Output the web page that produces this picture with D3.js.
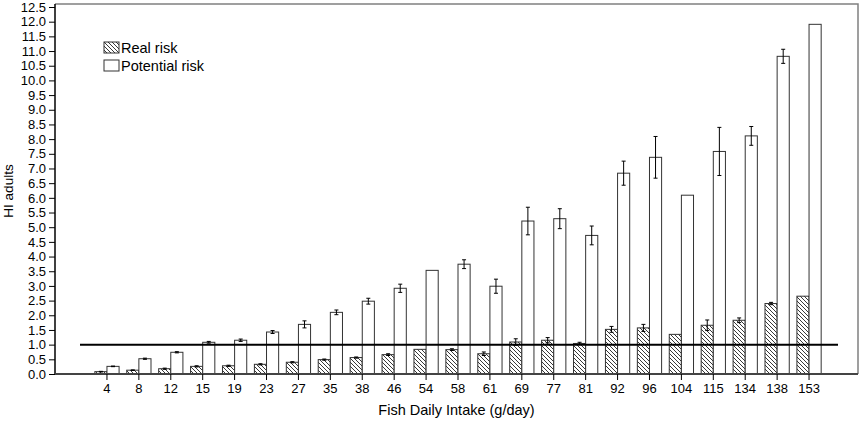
<!DOCTYPE html>
<html>
<head>
<meta charset="utf-8">
<script src="https://cdn.jsdelivr.net/npm/d3@7"></script>
<style>
  body { margin: 0; background: #fff; }
  text { font-family: "Liberation Sans", Arial, sans-serif; fill: #000; }
</style>
</head>
<body>
<div id="chart"></div>
<script>
// values
var intake = ["4", "8", "12", "15", "19", "23", "27", "35", "38", "46", "54", "58",
  "61", "69", "77", "81", "92", "96", "104", "115", "134", "138", "153"];
var realRisk = [0.08, 0.13, 0.18, 0.26, 0.28, 0.33, 0.40, 0.49, 0.56, 0.66, 0.84, 0.83,
  0.69, 1.09, 1.15, 1.04, 1.52, 1.57, 1.35, 1.66, 1.83, 2.40, 2.65];
var realErr = [0.01, 0.01, 0.02, 0.02, 0.02, 0.02, 0.02, 0.02, 0.02, 0.03, 0, 0.03,
  0.06, 0.11, 0.09, 0.04, 0.10, 0.12, 0, 0.18, 0.08, 0.04, 0];
var potentialRisk = [0.26, 0.52, 0.74, 1.08, 1.15, 1.43, 1.69, 2.10, 2.48, 2.92, 3.53, 3.74,
  2.99, 5.21, 5.29, 4.72, 6.84, 7.38, 6.09, 7.58, 8.11, 10.82, 11.91];
var potentialErr = [0.01, 0.02, 0.02, 0.03, 0.04, 0.05, 0.12, 0.08, 0.10, 0.14, 0, 0.15,
  0.24, 0.47, 0.34, 0.32, 0.41, 0.71, 0, 0.82, 0.32, 0.24, 0];
var yTicks = d3.range(0, 12.51, 0.5);
var threshold = 1.0;
var legendLabels = ["Real risk", "Potential risk"];

var svgWidth = 861;
var svgHeight = 422;

// plot frame
var frame = { left: 55, right: 858, top: 4, bottom: 374 };

var svg = d3.select("#chart")
  .append("svg")
  .attr("width", svgWidth)
  .attr("height", svgHeight);

// hatch pattern for real risk
var defs = svg.append("defs");
var pat = defs.append("pattern")
  .attr("id", "hatch")
  .attr("patternUnits", "userSpaceOnUse")
  .attr("width", 4)
  .attr("height", 4);
pat.append("rect").attr("width", 4).attr("height", 4).attr("fill", "#fff");
pat.append("path")
  .attr("d", "M0,0 L4,4 M-1,3 L1,5 M3,-1 L5,1")
  .attr("stroke", "#222")
  .attr("stroke-width", 0.9);

var x = d3.scaleBand()
  .domain(intake)
  .range([91, 825]);

var y = d3.scaleLinear()
  .domain([0, 12.5])
  .range([frame.bottom, 7]);

var barW = x.bandwidth() * 0.38;
var cx = d => x(d) + x.bandwidth() / 2;

var rows = intake.map(function(k, i) {
  return { k: k, real: realRisk[i], rErr: realErr[i], pot: potentialRisk[i], pErr: potentialErr[i] };
});

// frame top / right
svg.append("path")
  .attr("d", `M${frame.left},${frame.top}H${frame.right}V${frame.bottom}`)
  .attr("fill", "none")
  .attr("stroke", "#808080")
  .attr("stroke-width", 1.5);

// bars
var g = svg.append("g");

g.selectAll(".real")
  .data(rows)
  .enter()
  .append("rect")
  .attr("class", "real")
  .attr("x", d => cx(d.k) - barW)
  .attr("y", d => y(d.real))
  .attr("width", barW)
  .attr("height", d => y(0) - y(d.real))
  .attr("fill", "url(#hatch)")
  .attr("stroke", "#333")
  .attr("stroke-width", 1);

g.selectAll(".pot")
  .data(rows)
  .enter()
  .append("rect")
  .attr("class", "pot")
  .attr("x", d => cx(d.k))
  .attr("y", d => y(d.pot))
  .attr("width", barW)
  .attr("height", d => y(0) - y(d.pot))
  .attr("fill", "#fff")
  .attr("stroke", "#333")
  .attr("stroke-width", 1);

// error bars
function errBars(data, getX, getV, getE) {
  var eb = g.selectAll(null)
    .data(data.filter(d => getE(d) > 0))
    .enter()
    .append("g")
    .attr("stroke", "#000")
    .attr("stroke-width", 1);
  eb.append("line")
    .attr("x1", getX).attr("x2", getX)
    .attr("y1", d => y(getV(d) + getE(d)))
    .attr("y2", d => y(getV(d) - getE(d)));
  eb.append("line")
    .attr("x1", d => getX(d) - 2).attr("x2", d => getX(d) + 2)
    .attr("y1", d => y(getV(d) + getE(d)))
    .attr("y2", d => y(getV(d) + getE(d)));
  eb.append("line")
    .attr("x1", d => getX(d) - 2).attr("x2", d => getX(d) + 2)
    .attr("y1", d => y(getV(d) - getE(d)))
    .attr("y2", d => y(getV(d) - getE(d)));
}
errBars(rows, d => cx(d.k) - barW / 2, d => d.real, d => d.rErr);
errBars(rows, d => cx(d.k) + barW / 2, d => d.pot, d => d.pErr);

// threshold line at HI = 1
svg.append("line")
  .attr("x1", 80)
  .attr("x2", 838)
  .attr("y1", y(threshold))
  .attr("y2", y(threshold))
  .attr("stroke", "#000")
  .attr("stroke-width", 2);

// axes
var leftAxis = d3.axisLeft(y)
  .tickValues(yTicks)
  .tickFormat(d3.format(".1f"))
  .tickSize(6)
  .tickPadding(3);

var yAxis = svg.append("g")
  .attr("transform", `translate(${frame.left},0)`)
  .call(leftAxis);
yAxis.select(".domain").attr("stroke", "#000").attr("stroke-width", 1.5)
  .attr("d", `M0,${frame.top}V${frame.bottom}`);
yAxis.selectAll("line").attr("stroke", "#000");
yAxis.selectAll("text").attr("font-size", "13px").attr("fill", "#000");

var bottomAxis = d3.axisBottom(x)
  .tickSize(6)
  .tickPadding(4);

var xAxis = svg.append("g")
  .attr("transform", `translate(0,${frame.bottom})`)
  .call(bottomAxis);
xAxis.select(".domain").attr("d", `M${frame.left},0H${frame.right}`)
  .attr("stroke", "#444").attr("stroke-width", 2);
xAxis.selectAll("line").attr("stroke", "#000");
xAxis.selectAll("text").attr("font-size", "13px").attr("fill", "#000");

// axis titles
svg.append("text")
  .attr("x", (frame.left + frame.right) / 2)
  .attr("y", 415)
  .attr("text-anchor", "middle")
  .attr("font-size", "14.5px")
  .text("Fish Daily Intake (g/day)");

svg.append("text")
  .attr("transform", `translate(13,${(frame.top + frame.bottom) / 2 + 2}) rotate(-90)`)
  .attr("text-anchor", "middle")
  .attr("font-size", "13.5px")
  .text("HI adults");

// legend
var legend = svg.append("g").attr("transform", "translate(104,42)");
legendLabels.forEach(function(lbl, i) {
  legend.append("rect")
    .attr("x", 0)
    .attr("y", i * 18)
    .attr("width", 15)
    .attr("height", 11)
    .attr("fill", i === 0 ? "url(#hatch)" : "#fff")
    .attr("stroke", "#333");
  legend.append("text")
    .attr("x", 17)
    .attr("y", i * 18 + 10.5)
    .attr("font-size", "14.5px")
    .text(lbl);
});
</script>
</body>
</html>
